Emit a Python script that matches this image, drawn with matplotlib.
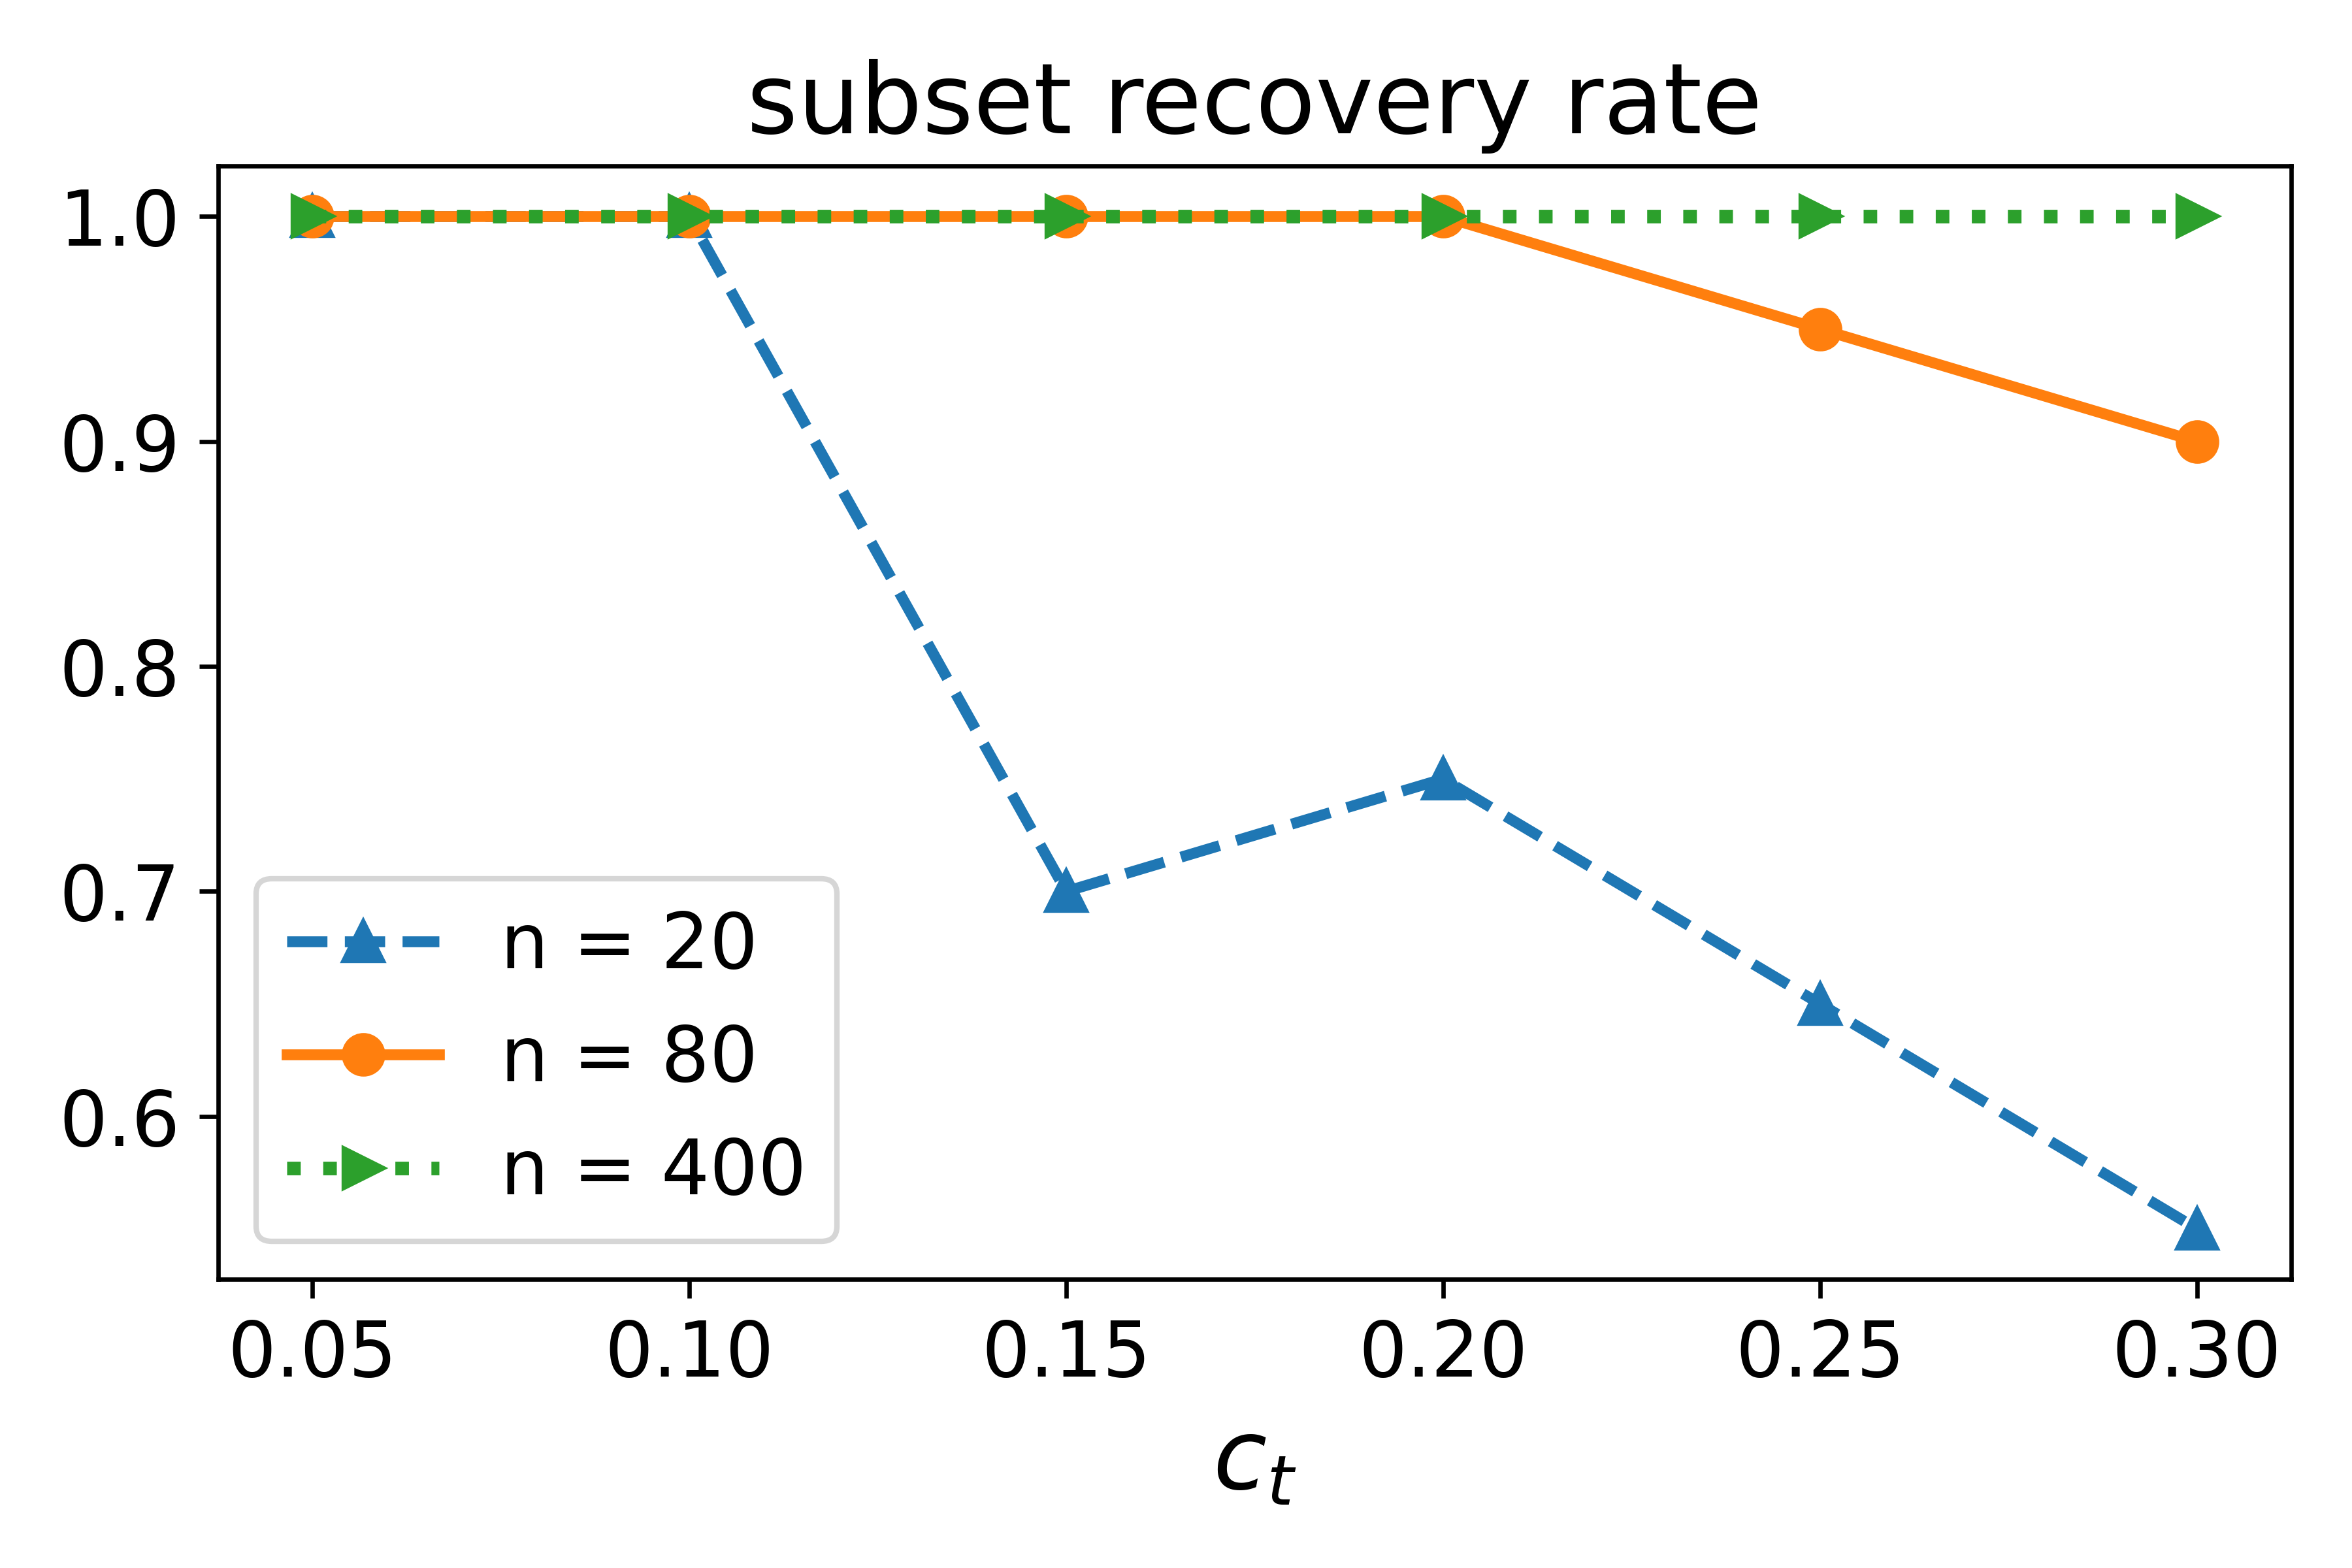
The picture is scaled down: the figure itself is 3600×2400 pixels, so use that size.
import matplotlib
matplotlib.use("Agg")
import matplotlib.pyplot as plt

ct = [0.05, 0.10, 0.15, 0.20, 0.25, 0.30]
n20 = [1.0, 1.0, 0.70, 0.75, 0.65, 0.55]
n80 = [1.0, 1.0, 1.0, 1.0, 0.95, 0.90]
n400 = [1.0, 1.0, 1.0, 1.0, 1.0, 1.0]
labels = ["n = 20", "n = 80", "n = 400"]

fig, ax = plt.subplots(figsize=(6, 4), dpi=600)
ax.plot(ct, n20, "--^", color="#1f77b4", lw=2, ms=7, label=labels[0])
ax.plot(ct, n80, "-o", color="#ff7f0e", lw=2, ms=7, label=labels[1])
ax.plot(ct, n400, ":>", color="#2ca02c", lw=2.5, ms=7, label=labels[2])
ax.set_title("subset recovery rate", fontsize=18)
ax.set_xlabel("$c_t$", fontsize=18)
ax.set_xticks(ct)
ax.set_xticklabels([f"{v:.2f}" for v in ct])
ax.tick_params(labelsize=14)
ax.legend(fontsize=14, loc="lower left")
fig.tight_layout()
fig.savefig("out.png", dpi=600)
